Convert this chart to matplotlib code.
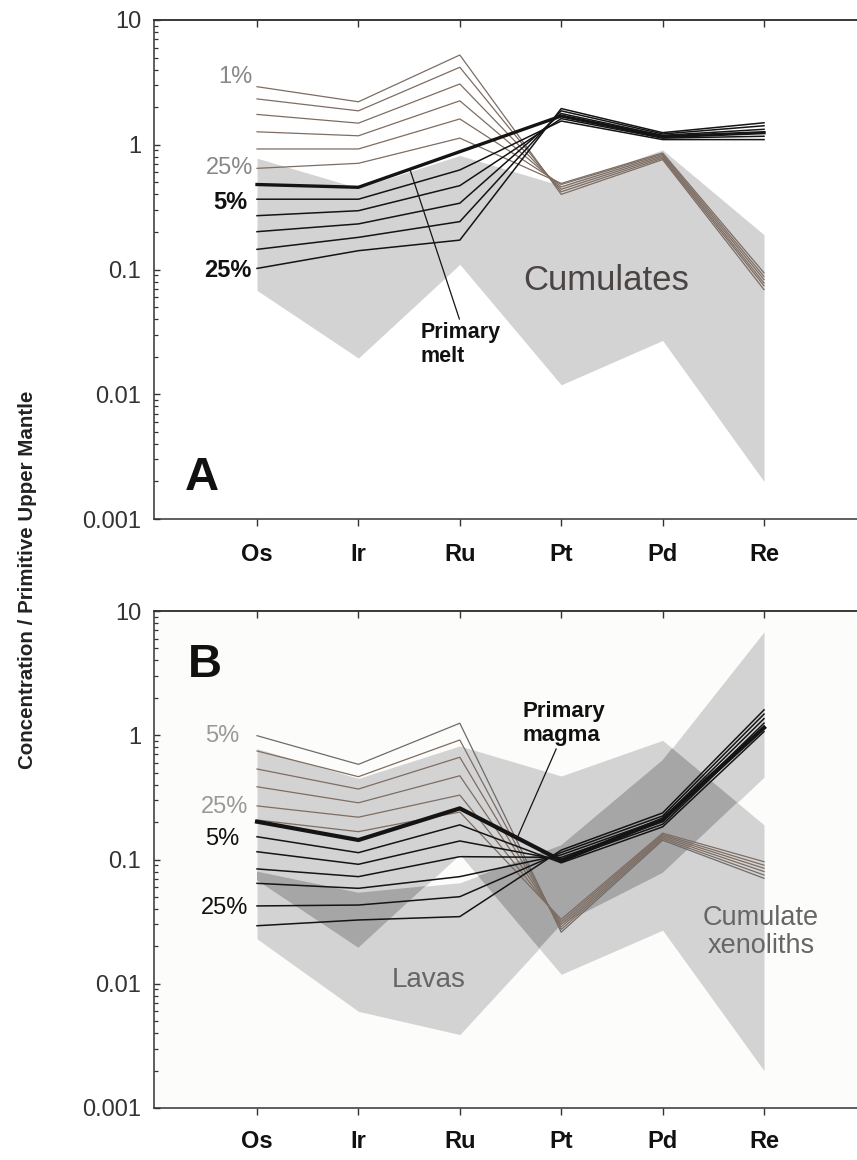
import numpy as np
import matplotlib
matplotlib.use('Agg')
import matplotlib.pyplot as plt
from matplotlib.ticker import LogLocator, NullFormatter

plt.rcParams['font.family'] = ['Liberation Sans', 'DejaVu Sans']

# ---------------- data ----------------
elements = ['Os', 'Ir', 'Ru', 'Pt', 'Pd', 'Re']
ytick_vals = [0.001, 0.01, 0.1, 1, 10]
ytick_labels = ['0.001', '0.01', '0.1', '1', '10']

# cumulate field (panel A "Cumulates", panel B "Cumulate xenoliths")
cum_upper = [0.78, 0.45, 0.82, 0.47, 0.91, 0.19]
cum_lower = [0.068, 0.0195, 0.11, 0.0119, 0.027, 0.0020]

# lava field (panel B)
lava_upper = [0.08, 0.054, 0.065, 0.13, 0.63, 6.8]
lava_lower = [0.023, 0.006, 0.0039, 0.03, 0.078, 0.46]

# Panel A: residual/cumulate model lines (brown), 1% .. 25%
A_brown = {
    'Os': [2.92, 2.33, 1.75, 1.27, 0.925, 0.647],
    'Ir': [2.21, 1.87, 1.49, 1.18, 0.925, 0.71],
    'Ru': [5.24, 4.18, 3.07, 2.25, 1.61, 1.13],
    'Pt': [0.40, 0.42, 0.44, 0.46, 0.48, 0.49],
    'Pd': [0.76, 0.78, 0.80, 0.82, 0.84, 0.86],
    'Re': [0.069, 0.074, 0.078, 0.083, 0.088, 0.094],
}
# Panel A: melt lines (black); first = primary melt (thick)
A_black = {
    'Os': [0.48, 0.366, 0.27, 0.201, 0.145, 0.102],
    'Ir': [0.456, 0.366, 0.296, 0.232, 0.181, 0.1415],
    'Ru': [0.88, 0.628, 0.47, 0.34, 0.242, 0.172],
    'Pt': [1.70, 1.55, 1.62, 1.78, 1.87, 1.95],
    'Pd': [1.16, 1.10, 1.13, 1.19, 1.22, 1.25],
    'Re': [1.25, 1.10, 1.17, 1.33, 1.42, 1.50],
}
# Panel B: cumulate model lines (first gray, rest brown)
B_brown = {
    'Os': [0.992, 0.747, 0.535, 0.385, 0.27, 0.208],
    'Ir': [0.583, 0.464, 0.369, 0.286, 0.219, 0.1675],
    'Ru': [1.25, 0.916, 0.665, 0.472, 0.33, 0.241],
    'Pt': [0.026, 0.0273, 0.0286, 0.030, 0.0315, 0.033],
    'Pd': [0.143, 0.147, 0.151, 0.155, 0.159, 0.163],
    'Re': [0.0706, 0.075, 0.080, 0.085, 0.090, 0.096],
}
# Panel B: magma lines (black); first = primary magma (thick)
B_black = {
    'Os': [0.2015, 0.1525, 0.1155, 0.084, 0.0643, 0.0423, 0.0293],
    'Ir': [0.1435, 0.1135, 0.0915, 0.0728, 0.0586, 0.043, 0.0326],
    'Ru': [0.258, 0.19, 0.141, 0.1054, 0.0728, 0.0502, 0.0347],
    'Pt': [0.098, 0.094, 0.099, 0.104, 0.109, 0.114, 0.119],
    'Pd': [0.21, 0.183, 0.192, 0.201, 0.212, 0.224, 0.237],
    'Re': [1.15, 1.07, 1.16, 1.25, 1.36, 1.48, 1.60],
}

# ---------------- styling ----------------
LIGHT = '#d3d3d3'
DARK = '#a6a6a6'
BLACK = '#141414'
BROWN = '#7d6d63'
GRAYLINE = '#6c6c6c'
SPINE = '#333333'

W, H = 857, 1160
fig = plt.figure(figsize=(W / 100, H / 100), dpi=100)
axA = fig.add_axes([154 / W, 1 - 519 / H, 1 - 154 / W, (519 - 20) / H])
axB = fig.add_axes([154 / W, 1 - 1108 / H, 1 - 154 / W, (1108 - 611) / H],
                   facecolor='#fcfcfb')

xpos = np.arange(len(elements))


def style_axes(ax, xpad):
    ax.set_yscale('log')
    ax.set_ylim(0.001, 10)
    ax.set_xlim(-1.016, 5.917)
    ax.spines['right'].set_visible(False)
    for s in ['left', 'top', 'bottom']:
        ax.spines[s].set_linewidth(1.1)
        ax.spines[s].set_color(SPINE)
    ax.set_xticks(xpos)
    ax.set_xticklabels(elements, fontsize=17, fontweight='bold', color='#111111')
    ax.tick_params(axis='x', direction='out', length=5, width=1.0,
                   color=SPINE, pad=xpad)
    ax.set_yticks(ytick_vals)
    ax.set_yticklabels(ytick_labels)
    ax.yaxis.set_minor_locator(LogLocator(base=10, subs=np.arange(2, 10) * 1.0, numticks=20))
    ax.yaxis.set_minor_formatter(NullFormatter())
    ax.tick_params(axis='y', which='major', direction='in', length=4.5, width=1.0,
                   color=SPINE, labelsize=17, labelcolor='#333333', pad=9.2)
    ax.tick_params(axis='y', which='minor', direction='in', length=3, width=0.9,
                   color=SPINE)
    sec = ax.secondary_xaxis('top')
    sec.set_xticks(xpos)
    sec.xaxis.set_major_formatter(NullFormatter())
    sec.tick_params(direction='in', length=5, width=1.0, color=SPINE)
    sec.spines['top'].set_linewidth(1.1)
    sec.spines['top'].set_color(SPINE)


style_axes(axA, 12.5)
style_axes(axB, 10.5)

# ---------------- Panel A ----------------
axA.fill_between(xpos, cum_lower, cum_upper, color=LIGHT, lw=0, zorder=1)

nA = len(A_brown['Os'])
for i in range(nA):
    axA.plot(xpos, [A_brown[e][i] for e in elements], color=BROWN, lw=0.9, zorder=3)
for i in range(len(A_black['Os'])):
    axA.plot(xpos, [A_black[e][i] for e in elements], color=BLACK,
             lw=2.4 if i == 0 else 1.1, zorder=4)

axA.text(3.44, 0.082, 'Cumulates', fontsize=25, color='#4a4444',
         ha='center', va='center', zorder=5)
axA.text(-0.04, 3.49, '1%', fontsize=17, color='#888888', ha='right', va='center')
axA.text(-0.04, 0.651, '25%', fontsize=17, color='#888888', ha='right', va='center')
axA.text(-0.10, 0.347, '5%', fontsize=17, color='#111111', fontweight='bold',
         ha='right', va='center')
axA.text(-0.05, 0.099, '25%', fontsize=17, color='#111111', fontweight='bold',
         ha='right', va='center')
axA.annotate('Primary\nmelt', xy=(1.51, 0.627), xytext=(1.61, 0.038),
             fontsize=15.5, fontweight='bold', color='#111111', ha='left', va='top',
             arrowprops=dict(arrowstyle='-', color=BLACK, lw=0.9,
                             shrinkA=0, shrinkB=0, relpos=(0.5, 1.0)), zorder=6)
axA.text(-0.71, 0.0017, 'A', fontsize=34, fontweight='bold', color='#111111',
         ha='left', va='baseline')

# ---------------- Panel B ----------------
axB.fill_between(xpos, lava_lower, lava_upper, color=LIGHT, lw=0, zorder=1)
axB.fill_between(xpos, cum_lower, cum_upper, color=LIGHT, lw=0, zorder=1)
# overlap of the two fields (darker), interpolated in log space along x
xf = np.linspace(0, len(elements) - 1, 2001)
lo = np.maximum(np.interp(xf, xpos, np.log10(lava_lower)),
                np.interp(xf, xpos, np.log10(cum_lower)))
hi = np.minimum(np.interp(xf, xpos, np.log10(lava_upper)),
                np.interp(xf, xpos, np.log10(cum_upper)))
axB.fill_between(xf, 10 ** lo, 10 ** hi, where=hi > lo, color=DARK, lw=0,
                 zorder=2, interpolate=True)

for i in range(len(B_brown['Os'])):
    axB.plot(xpos, [B_brown[e][i] for e in elements],
             color=GRAYLINE if i == 0 else BROWN, lw=0.9, zorder=3)
for i in range(len(B_black['Os'])):
    axB.plot(xpos, [B_black[e][i] for e in elements], color=BLACK,
             lw=3.0 if i == 0 else 1.1, zorder=4)

axB.text(-0.17, 0.992, '5%', fontsize=17, color='#999999', ha='right', va='center')
axB.text(-0.09, 0.265, '25%', fontsize=17, color='#999999', ha='right', va='center')
axB.text(-0.17, 0.146, '5%', fontsize=17, color='#111111', ha='right', va='center')
axB.text(-0.09, 0.0407, '25%', fontsize=17, color='#111111', ha='right', va='center')
axB.text(1.69, 0.0107, 'Lavas', fontsize=20, color='#666666', ha='center', va='center',
         zorder=5)
axB.text(4.97, 0.026, 'Cumulate\nxenoliths', fontsize=19.5, color='#666666',
         ha='center', va='center', linespacing=1.1, zorder=5)
axB.annotate('Primary\nmagma', xy=(2.574, 0.1545), xytext=(2.62, 1.244),
             fontsize=16, fontweight='bold', color='#111111', ha='left', va='center',
             arrowprops=dict(arrowstyle='-', color=BLACK, lw=0.9,
                             shrinkA=0, shrinkB=0, relpos=(0.42, 0.0)), zorder=6)
axB.text(-0.68, 2.96, 'B', fontsize=34, fontweight='bold', color='#111111',
         ha='left', va='baseline')

fig.text(28 / W, 0.5, 'Concentration / Primitive Upper Mantle', rotation=90,
         fontsize=14.8, fontweight='bold', color='#222222', ha='center', va='center')

fig.savefig('out.png', dpi=100)
